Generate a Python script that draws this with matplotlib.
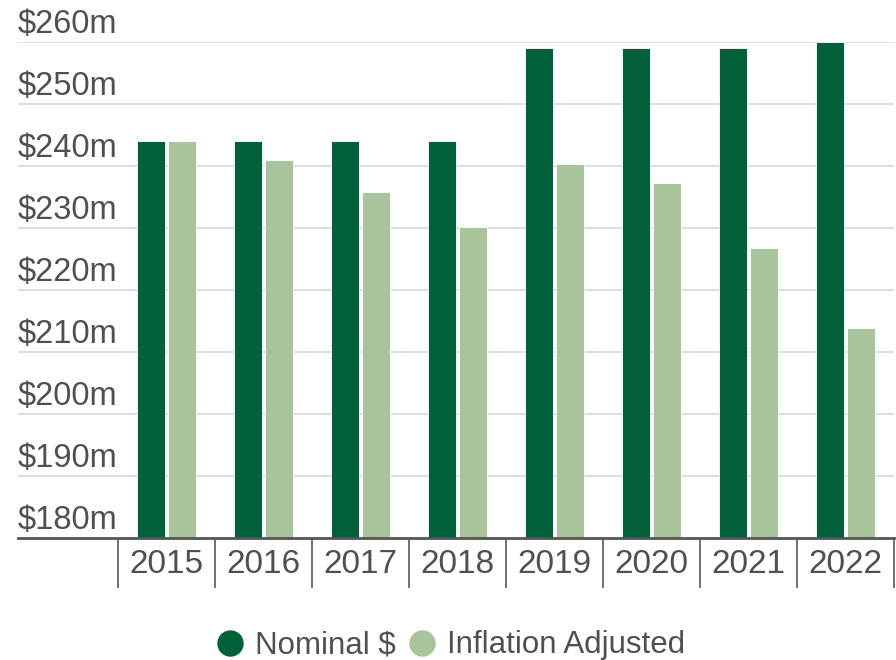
import matplotlib
matplotlib.use('Agg')
import matplotlib.pyplot as plt
from matplotlib.lines import Line2D
import numpy as np

plt.rcParams['font.family'] = ['Liberation Sans', 'DejaVu Sans']

# values in $ millions
years = ['2015', '2016', '2017', '2018', '2019', '2020', '2021', '2022']
nominal = [244, 244, 244, 244, 259, 259, 259, 260]
adjusted = [244, 240.9, 235.8, 230.2, 240.3, 237.3, 226.7, 213.9]
y_ticks = [180, 190, 200, 210, 220, 230, 240, 250, 260]
y_labels = ['$180m', '$190m', '$200m', '$210m', '$220m', '$230m', '$240m', '$250m', '$260m']

dark = '#02613a'
light = '#a9c49a'
text_col = '#505050'

fig = plt.figure(figsize=(8.96, 6.6), dpi=100)
ax = fig.add_axes([18 / 896, 1 - 538 / 660, 876 / 896, 496 / 660])

x = np.arange(len(years))
w = 28 / 97
off = 15.5 / 97
ax.bar(x - off, nominal, width=w, color=dark, edgecolor='white', linewidth=0.6, zorder=3)
ax.bar(x + off, adjusted, width=w, color=light, edgecolor='white', linewidth=0.6, zorder=3)

ax.set_ylim(180, 260)
ax.set_xlim(-0.5 - 100 / 97, len(years) - 0.5)

# gridlines and y labels sitting above them
for v, lab in zip(y_ticks, y_labels):
    if v > 180:
        ax.axhline(v, color='#dddddd', linewidth=1.5, zorder=1)
    ax.annotate(lab, xy=(0, v), xycoords=('axes fraction', 'data'),
                xytext=(0, 9), textcoords='offset pixels',
                ha='left', va='baseline', fontsize=23.5, color=text_col)
ax.set_yticks([])

for s in ['top', 'right', 'left']:
    ax.spines[s].set_visible(False)
ax.spines['bottom'].set_color('#555555')
ax.spines['bottom'].set_linewidth(2)
ax.spines['bottom'].set_zorder(4)

# category labels and dividers
ax.set_xticks(x)
ax.set_xticklabels(years, fontsize=24, color=text_col)
ax.tick_params(axis='x', which='major', length=0, pad=8)
ax.set_xticks(np.arange(len(years) + 1) - 0.5, minor=True)
ax.tick_params(axis='x', which='minor', length=36, width=1.3, color='#666666')

handles = [
    Line2D([], [], marker='o', linestyle='none', markersize=18, color=dark, label='Nominal $'),
    Line2D([], [], marker='o', linestyle='none', markersize=18, color=light, label='Inflation Adjusted'),
]
fig.legend(handles=handles, loc='center', bbox_to_anchor=(0.502, 0.022), ncol=2,
           frameon=False, fontsize=22.5, handletextpad=0.3, columnspacing=0.35,
           handlelength=1.0, labelcolor=text_col)

fig.savefig('out.png', dpi=100)
